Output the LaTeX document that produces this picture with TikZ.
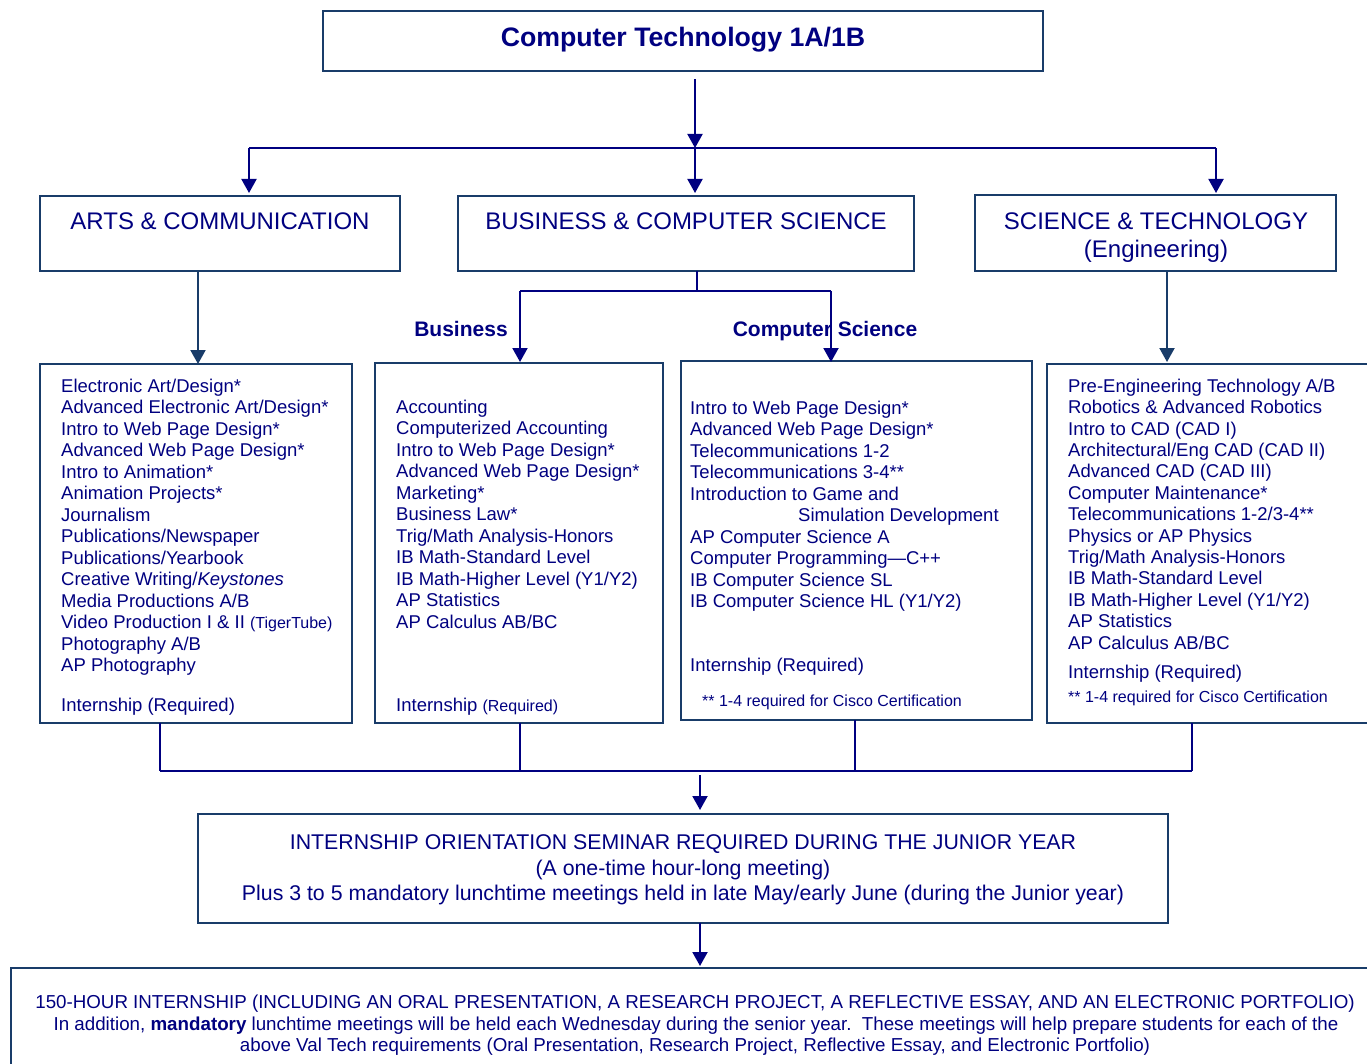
\documentclass[tikz,border=0pt]{standalone}
\usepackage{fontspec}
\setmainfont{Liberation Sans}
\usetikzlibrary{arrows.meta}
\definecolor{txt}{RGB}{0,0,128}
\definecolor{boxc}{RGB}{25,60,105}
\definecolor{ln}{RGB}{0,0,128}
\begin{document}
\begin{tikzpicture}[x=1pt,y=-1pt,
  box/.style={draw=boxc, line width=2pt, anchor=north west, inner sep=0pt, outer sep=0pt},
  conn/.style={draw=ln, line width=2pt},
  arr/.style={conn, -{Triangle[length=14pt,width=15pt]}},
  item/.style={anchor=base west, inner sep=0pt, text=txt, font=\fontsize{18.5}{21.5}\selectfont},
  note/.style={anchor=base west, inner sep=0pt, text=txt, font=\fontsize{16}{19}\selectfont},
  head/.style={anchor=base, inner sep=0pt, text=txt, font=\fontsize{24}{28}\selectfont},
  lab/.style={anchor=base, inner sep=0pt, text=txt, font=\fontsize{21}{25}\selectfont\bfseries},
  semt/.style={anchor=base, inner sep=0pt, text=txt, font=\fontsize{21.3}{25}\selectfont},
  bott/.style={anchor=base, inner sep=0pt, text=txt, font=\fontsize{18.75}{22}\selectfont},
]
\clip (0,0) rectangle (1367,1064);
\fill[white] (0,0) rectangle (1367,1064);

% top
\node[box, minimum width=720pt, minimum height=60pt] (top) at (323,11) {};
\node[anchor=base, inner sep=0pt, text=txt, font=\fontsize{26.7}{30}\selectfont\bfseries] (title) at (683,46.5) {Computer Technology 1A/1B};

% heading boxes
\node[box, minimum width=360pt, minimum height=75pt] (arts) at (40,196) {};
\node[head] (artsh) at (220,229.3) {ARTS \& COMMUNICATION};
\node[box, minimum width=456pt, minimum height=75pt] (bcs) at (458,196) {};
\node[head] (bcsh) at (686,229.3) {BUSINESS \& COMPUTER SCIENCE};
\node[box, minimum width=361pt, minimum height=76pt] (sci) at (975,195) {};
\node[head] (scih) at (1156,229.3) {SCIENCE \& TECHNOLOGY};
\node[head] (scih2) at (1156,257.5) {(Engineering)};

% list boxes
\node[box, minimum width=312pt, minimum height=359pt] (artsl) at (40,364) {};
\node[box, minimum width=288pt, minimum height=360pt] (busl) at (375,363) {};
\node[box, minimum width=351pt, minimum height=359pt] (csl) at (681,361) {};
\node[box, minimum width=360pt, minimum height=359pt] (scil) at (1047,364) {};

% top connectors
\coordinate (j0) at (695,79.5);
\coordinate (j1) at (695,148);
\coordinate (hl) at (249,148);
\coordinate (hr) at (1216,148);
\draw[arr] (j0) -- (j1);
\draw[conn] (hl) -- (hr);
\draw[arr] (hl) -- ++(0,45);
\draw[arr] (j1) -- ++(0,45);
\draw[arr] (hr) -- ++(0,45);

% arts / sci drop arrows
\coordinate (a0) at (198,271);
\draw[arr, draw=boxc] (a0) -- (a0 |- artsl.north);
\coordinate (s0) at (1167,271);
\draw[arr, draw=boxc] (s0) -- ++(0,91);

% business / cs split
\coordinate (b0) at (697,271);
\coordinate (b1) at (697,291);
\coordinate (bl) at (520,291);
\coordinate (br) at (831,291);
\draw[conn] (b0) -- (b1);
\draw[conn] (bl) -- (br);
\node[lab] (lbus) at (461,336.5) {Business};
\node[lab] (lcs) at (825,336.5) {Computer Science};
\draw[arr] (bl) -- ++(0,71);
\draw[arr] (br) -- ++(0,71);

% arts items
\foreach \t [count=\i] in {Electronic Art/Design*, Advanced Electronic Art/Design*, Intro to Web Page Design*, Advanced Web Page Design*, Intro to Animation*, Animation Projects*, Journalism, Publications/Newspaper, Publications/Yearbook, Creative Writing/\textit{Keystones}, Media Productions A/B, Video Production I \& II {\fontsize{16}{19}\selectfont(TigerTube)}, Photography A/B, AP Photography}
  \node[item] (ai\i) at (61,{392+21.5*(\i-1)}) {\t};
\node[item] (aint) at (61,711.7) {Internship (Required)};

% business items
\foreach \t [count=\i] in {Accounting, Computerized Accounting, Intro to Web Page Design*, Advanced Web Page Design*, Marketing*, Business Law*, Trig/Math Analysis-Honors, IB Math-Standard Level, IB Math-Higher Level (Y1/Y2), AP Statistics, AP Calculus AB/BC}
  \node[item] (bi\i) at (396,{413.3+21.5*(\i-1)}) {\t};
\node[item] (bint) at (396,711.7) {Internship {\fontsize{16}{19}\selectfont(Required)}};

% cs items
\foreach \t [count=\i] in {Intro to Web Page Design*, Advanced Web Page Design*, Telecommunications 1-2, Telecommunications 3-4**, Introduction to Game and, \hspace*{108pt}Simulation Development, AP Computer Science A, Computer Programming—C++, IB Computer Science SL, IB Computer Science HL (Y1/Y2)}
  \node[item] (ci\i) at (690,{414+21.5*(\i-1)}) {\t};
\node[item] (cint) at (690,671.7) {Internship (Required)};
\node[note] (cnote) at (702,706) {** 1-4 required for Cisco Certification};

% sci items
\foreach \t [count=\i] in {Pre-Engineering Technology A/B, Robotics \& Advanced Robotics, Intro to CAD (CAD I), Architectural/Eng CAD (CAD II), Advanced CAD (CAD III), Computer Maintenance*, Telecommunications 1-2/3-4**, Physics or AP Physics, Trig/Math Analysis-Honors, IB Math-Standard Level, IB Math-Higher Level (Y1/Y2), AP Statistics, AP Calculus AB/BC}
  \node[item] (si\i) at (1068,{392.3+21.4*(\i-1)}) {\t};
\node[item] (sint) at (1068,678.3) {Internship (Required)};
\node[note] (snote) at (1068,702.7) {** 1-4 required for Cisco Certification};

% bottom merge
\coordinate (d1) at (160,771);
\coordinate (d2) at (520,771);
\coordinate (d3) at (855,771);
\coordinate (d4) at (1192,771);
\draw[conn] (artsl.south -| d1) -- (d1);
\draw[conn] (busl.south -| d2) -- (d2);
\draw[conn] (csl.south -| d3) -- (d3);
\draw[conn] (scil.south -| d4) -- (d4);
\draw[conn] (d1) -- (d4);

% seminar
\node[box, minimum width=970pt, minimum height=109pt] (sem) at (198,813.5) {};
\coordinate (m0) at (700,775);
\draw[arr] (m0) -- ++(0,35);
\node[semt] (sem1) at (683,849.3) {INTERNSHIP ORIENTATION SEMINAR REQUIRED DURING THE JUNIOR YEAR};
\node[semt] (sem2) at (683,875) {(A one-time hour-long meeting)};
\node[semt] (sem3) at (683,900) {Plus 3 to 5 mandatory lunchtime meetings held in late May/early June (during the Junior year)};

% final internship
\node[box, minimum width=1400pt, minimum height=200pt] (fin) at (11,968) {};
\coordinate (k0) at (700,922.5);
\draw[arr] (k0) -- ++(0,43.5);
\node[bott] (fin1) at (695,1008.3) {150-HOUR INTERNSHIP (INCLUDING AN ORAL PRESENTATION, A RESEARCH PROJECT, A REFLECTIVE ESSAY, AND AN ELECTRONIC PORTFOLIO)};
\node[bott] (fin2) at (696,1030) {In addition, \textbf{mandatory} lunchtime meetings will be held each Wednesday during the senior year.\ \ These meetings will help prepare students for each of the};
\node[bott] (fin3) at (695,1051.7) {above Val Tech requirements (Oral Presentation, Research Project, Reflective Essay, and Electronic Portfolio)};
\end{tikzpicture}
\end{document}
